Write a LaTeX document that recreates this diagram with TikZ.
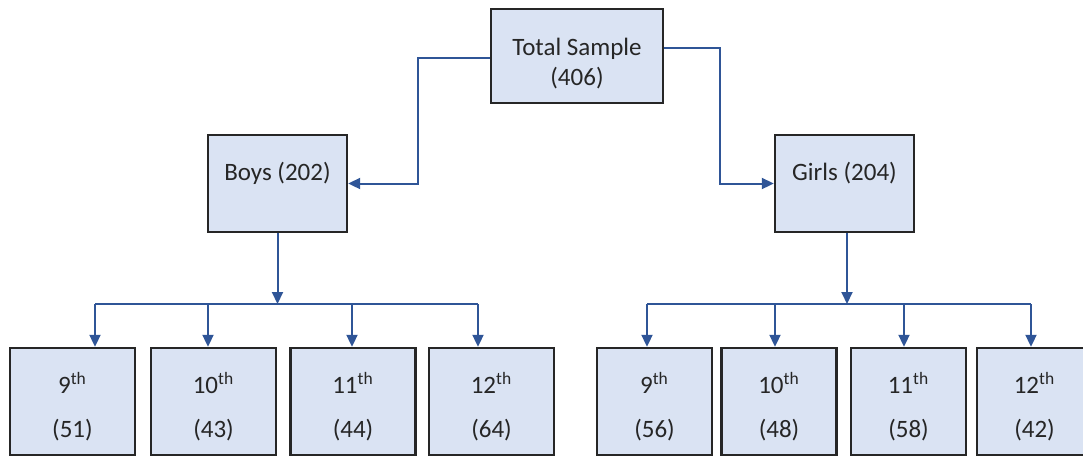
\documentclass[tikz,border=0pt]{standalone}
\usepackage{fontspec}
\setmainfont{Carlito}
\usetikzlibrary{arrows.meta}

\definecolor{boxfill}{HTML}{DAE3F3}
\definecolor{boxline}{HTML}{262626}
\definecolor{wire}{HTML}{2F5597}

\begin{document}
\begin{tikzpicture}[x=0.5pt, y=-0.5pt,
    box/.style={draw=boxline, fill=boxfill, line width=1.2pt, inner sep=0pt, align=center, text=boxline},
    topbox/.style={box, minimum width=86pt, minimum height=47pt, font=\fontsize{12.5}{15}\selectfont, text height=38pt, text depth=9pt},
    midbox/.style={box, minimum width=69.5pt, minimum height=48.5pt, font=\fontsize{12.5}{15}\selectfont, text height=22.5pt, text depth=26pt},
    gradeL/.style={box, minimum width=62.5pt, minimum height=53.5pt, font=\fontsize{12.5}{22}\selectfont, text height=44.5pt, text depth=9pt},
    gradeR/.style={gradeL, minimum width=57.5pt},
    link/.style={draw=wire, line width=1pt, -{Triangle[length=6pt, width=5.5pt]}},
    bus/.style={draw=wire, line width=1pt}]
    \useasboundingbox (0,0) rectangle (1083,457);

    \node[topbox] (total) at (577,56) {Total Sample\\(406)};
    \node[midbox] (boys) at (277.5,183.5) {Boys (202)};
    \node[midbox] (girls) at (844.5,183.5) {Girls (204)};

    \node[gradeL] (b9) at (72.5,401.5) {9\textsuperscript{th}\\(51)};
    \node[gradeL] (b10) at (213.5,401.5) {10\textsuperscript{th}\\(43)};
    \node[gradeL] (b11) at (353,401.5) {11\textsuperscript{th}\\(44)};
    \node[gradeL] (b12) at (491.5,401.5) {12\textsuperscript{th}\\(64)};

    \node[gradeR] (g9) at (654.5,401.5) {9\textsuperscript{th}\\(56)};
    \node[gradeR] (g10) at (779,401.5) {10\textsuperscript{th}\\(48)};
    \node[gradeR] (g11) at (908.5,401.5) {11\textsuperscript{th}\\(58)};
    \node[gradeR] (g12) at (1034.5,401.5) {12\textsuperscript{th}\\(42)};

    \coordinate (bjoin) at (277.5,304);
    \coordinate (bt9) at (95,304);
    \coordinate (bt10) at (208,304);
    \coordinate (bt11) at (352,304);
    \coordinate (bt12) at (478,304);

    \coordinate (gjoin) at (847,304);
    \coordinate (gt9) at (647,304);
    \coordinate (gt10) at (775,304);
    \coordinate (gt11) at (904,304);
    \coordinate (gt12) at (1031,304);

    \draw[link] ([yshift=-1pt]total.west) -- ++(-72,0) |- (boys.east);
    \draw[link] ([yshift=4pt]total.east) -- ++(56,0) |- (girls.west);

    \draw[link] (boys.south) -- (bjoin);
    \draw[bus] (bt9) -- (bt12);
    \draw[link] (bt9) -- (bt9 |- b9.north);
    \draw[link] (bt10) -- (bt10 |- b10.north);
    \draw[link] (bt11) -- (bt11 |- b11.north);
    \draw[link] (bt12) -- (bt12 |- b12.north);

    \draw[link] (girls.south -| gjoin) -- (gjoin);
    \draw[bus] (gt9) -- (gt12);
    \draw[link] (gt9) -- (gt9 |- g9.north);
    \draw[link] (gt10) -- (gt10 |- g10.north);
    \draw[link] (gt11) -- (gt11 |- g11.north);
    \draw[link] (gt12) -- (gt12 |- g12.north);
\end{tikzpicture}
\end{document}
